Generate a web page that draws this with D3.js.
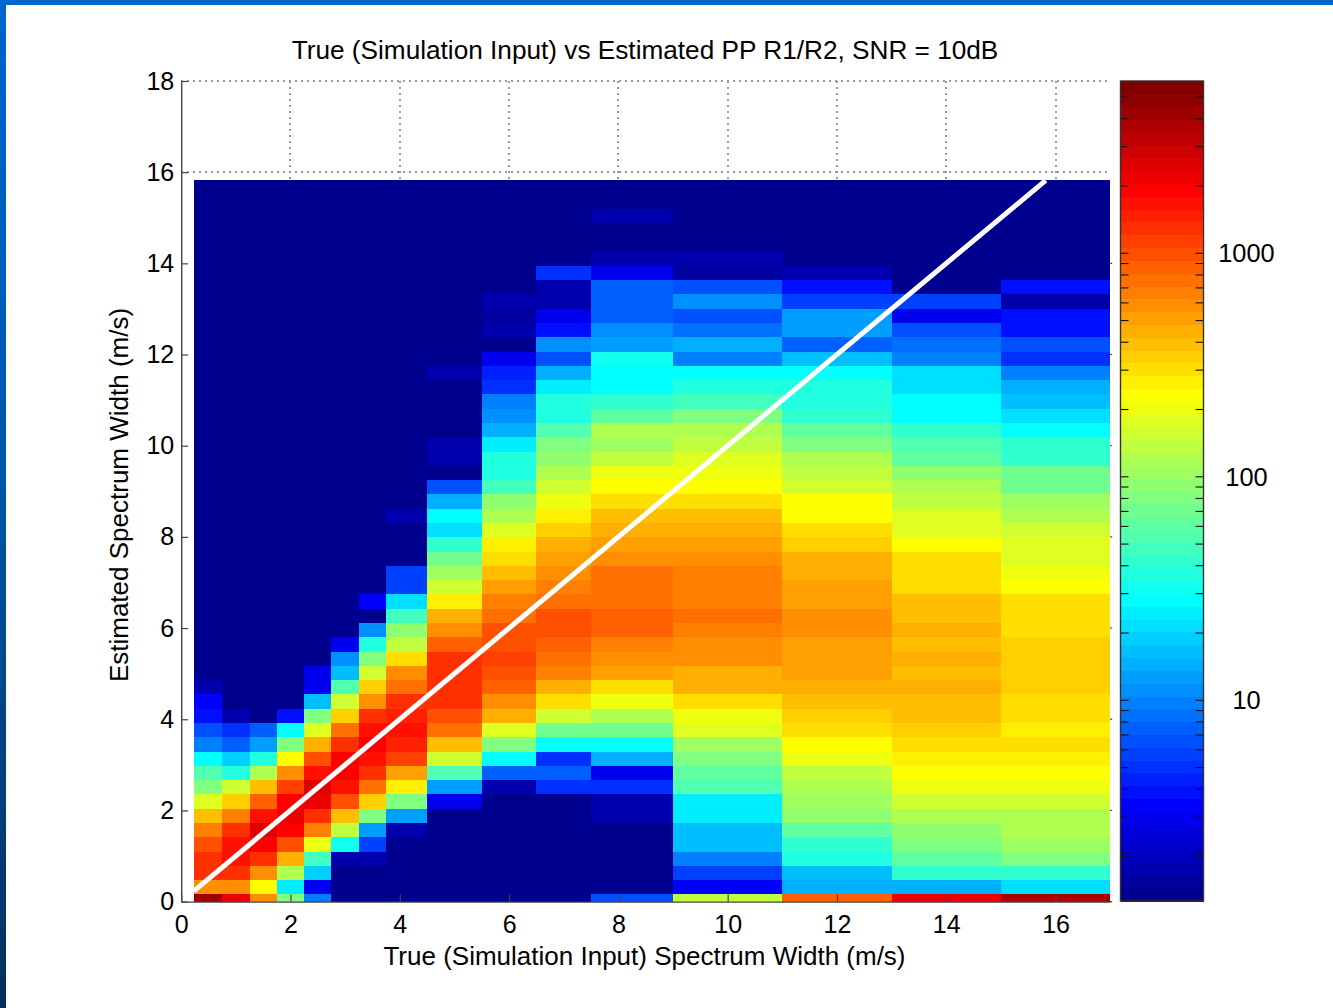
<!DOCTYPE html>
<html>
<head>
<meta charset="utf-8">
<script src="https://cdn.jsdelivr.net/npm/d3@7"></script>
<style>
  html, body { margin: 0; padding: 0; background: #fff; overflow: hidden; }
  text { font-family: "Liberation Sans", Arial, sans-serif; fill: #000; }
</style>
</head>
<body>
<div id="chart"></div>
<script>
// True width bin edges (m/s), 16 columns
const trueEdges = [0.23, 0.75, 1.25, 1.75, 2.25, 2.75, 3.25, 3.75, 4.5, 5.5, 6.5, 7.5, 9, 11, 13, 15, 17];

// Estimated width bins: 51 rows, row k is centred on k * rowStep
const rowCount = 51;
const rowStep = 0.3134;

// Counts per column, from the bottom row upward. Rows not listed are empty.
const col0 = [4245, 586, 1294, 1294, 994, 669, 394, 179, 81, 55, 28, 9.8, 6.6, 3.9, 3.4, 1.8];
const col1 = [2194, 586, 1294, 1685, 1685, 1294, 669, 346, 157, 37, 19, 7.5, 5.1, 1.8];
const col2 = [586, 233, 586, 1294, 1923, 2504, 1685, 871, 394, 120, 37, 13, 7.5];
const col3 = [81, 25, 120, 450, 994, 1923, 2194, 1923, 1134, 586, 233, 81, 28, 3.9];
const col4 = [9.8, 3, 19, 48, 204, 669, 1294, 2194, 2504, 1685, 994, 450, 179, 81, 17, 3, 3];
const col5 = [1, 1, 1, 1.8, 32, 137, 394, 994, 1685, 1923, 1923, 1294, 763, 346, 157, 55, 17, 11, 3];
const col6 = [1, 1, 1, 1.8, 5.8, 13, 81, 346, 763, 1294, 1685, 1923, 1685, 1294, 586, 346, 157, 81, 37, 11, 1, 3.4];
const col7 = [1, 1, 1, 1, 1, 1.8, 13, 81, 265, 514, 1134, 1476, 1685, 1476, 1294, 763, 586, 303, 137, 92, 48, 22, 5.8, 5.8, 1, 1, 1, 1.8];
const col8 = [1, 1, 1, 1, 1, 1, 1, 3, 13, 55, 157, 394, 763, 994, 1294, 1294, 1294, 1294, 871, 586, 450, 265, 157, 105, 71, 42, 22, 28, 15, 6.6, 1, 1.8, 1.8, 1, 1, 1, 1, 1.8];
const col9 = [1, 1, 1, 1, 1, 1, 1, 1, 1.8, 7.5, 28, 81, 179, 450, 586, 871, 994, 1134, 994, 994, 763, 669, 514, 394, 303, 265, 179, 120, 92, 48, 37, 37, 25, 15, 11, 9.8, 5.1, 4.4, 3, 1, 1.8, 1.5, 1.8];
const col10 = [1, 1, 1, 1, 1, 1, 1, 1, 5.1, 7.5, 5.1, 28, 71, 157, 303, 450, 669, 763, 871, 994, 994, 763, 669, 586, 514, 450, 346, 265, 204, 157, 120, 92, 81, 55, 37, 37, 25, 15, 6.6, 11, 3.9, 3, 1.8, 1.8, 5.1];
const col11 = [6.6, 1, 1, 1, 1, 1, 1.8, 1.8, 5.1, 3, 15, 28, 71, 120, 204, 303, 514, 586, 669, 871, 871, 763, 763, 763, 586, 514, 450, 394, 303, 233, 204, 137, 105, 120, 62, 42, 28, 28, 32, 13, 11, 7.5, 7.5, 7.5, 3, 1.8, 1, 1, 1.8];
const col12 = [137, 3.4, 5.8, 9.8, 17, 17, 25, 25, 55, 62, 81, 105, 179, 204, 303, 450, 450, 586, 586, 669, 763, 669, 669, 669, 586, 514, 450, 394, 303, 233, 204, 179, 137, 120, 81, 48, 37, 28, 9.8, 15, 8.6, 6.6, 11, 6.6, 1.5, 1.8];
const col13 = [871, 15, 17, 37, 42, 62, 92, 105, 120, 137, 204, 233, 303, 346, 394, 450, 514, 514, 514, 586, 586, 514, 514, 450, 450, 346, 303, 233, 233, 157, 137, 120, 81, 62, 42, 37, 37, 28, 17, 7.5, 13, 13, 5.8, 3.9, 1.8];
const col14 = [2194, 15, 42, 62, 81, 92, 120, 157, 204, 233, 265, 303, 346, 394, 394, 450, 394, 450, 394, 450, 394, 394, 303, 303, 303, 233, 179, 179, 137, 120, 92, 62, 55, 42, 28, 28, 22, 22, 9.8, 8.6, 6.6, 3, 5.8];
const col15 = [3720, 22, 42, 81, 105, 120, 120, 157, 204, 233, 265, 303, 265, 303, 303, 346, 346, 346, 346, 303, 303, 303, 233, 204, 179, 179, 157, 120, 105, 71, 71, 42, 42, 28, 22, 17, 15, 9.8, 5.1, 6.6, 3.9, 3.9, 1.8, 3.9];
const columns = [col0, col1, col2, col3, col4, col5, col6, col7, col8, col9, col10, col11, col12, col13, col14, col15];

// Axis ticks and the y = x reference line
const xTicks = [0, 2, 4, 6, 8, 10, 12, 14, 16];
const yTicks = [0, 2, 4, 6, 8, 10, 12, 14, 16, 18];
const refLine = [0.23, 15.82];

// Colour bar
const countRange = [1.265, 5900];
const barLabels = [10, 100, 1000];
const barMinor = [2, 3, 4, 5, 6, 7, 8, 9, 20, 30, 40, 50, 60, 70, 80, 90, 200, 300, 400, 500, 600, 700, 800, 900, 2000, 3000, 4000, 5000];

const width = 1333;
const height = 1008;
const levels = 64;

const svg = d3.select("#chart").append("svg")
    .attr("width", width)
    .attr("height", height)
    .style("display", "block");

// Slide frame: blue bar on top and a darkening one on the left
const grad = svg.append("defs").append("linearGradient")
    .attr("id", "frame")
    .attr("x1", 0).attr("y1", 0).attr("x2", 0).attr("y2", 1);
grad.append("stop").attr("offset", "0").attr("stop-color", "#0066cc");
grad.append("stop").attr("offset", "0.45").attr("stop-color", "#0058ad");
grad.append("stop").attr("offset", "1").attr("stop-color", "#002f5e");
svg.append("rect").attr("width", 6).attr("height", height).attr("fill", "url(#frame)");
svg.append("rect").attr("width", width).attr("height", 5).attr("fill", "#0066cc");

const x = d3.scaleLinear().domain([0, 17]).range([181.2, 1110.2]);
const y = d3.scaleLinear().domain([0, 18]).range([901.6, 81]);

// Matlab jet, 64 levels
function jet(i) {
    const v = (i + 1) / levels * 4;
    const f = c => Math.round(255 * Math.max(0, Math.min(1, Math.min(v - c + 1.5, c - v + 1.5))));
    return d3.rgb(f(3), f(2), f(1)).formatHex();
}
const logScale = d3.scaleLog().domain(countRange).range([0, levels]).clamp(true);
const colour = v => jet(Math.min(levels - 1, Math.floor(logScale(v))));

// Dotted grid, mostly hidden under the cells
const grid = svg.append("g")
    .attr("stroke", "#9a9a9a")
    .attr("stroke-width", 2)
    .attr("stroke-dasharray", "2 4")
    .attr("shape-rendering", "crispEdges");
grid.selectAll("line.v").data(xTicks.slice(1)).join("line")
    .attr("class", "v")
    .attr("x1", d => x(d)).attr("x2", d => x(d))
    .attr("y1", y(18)).attr("y2", y(15.7));
grid.selectAll("line.h").data(yTicks.slice(-2)).join("line")
    .attr("class", "h")
    .attr("x1", x(0)).attr("x2", x(17))
    .attr("y1", d => y(d)).attr("y2", d => y(d));

// Cells
const cells = [];
columns.forEach((col, c) => {
    d3.range(rowCount).forEach(k => {
        cells.push({ c, k, value: col[k] === undefined ? 1 : col[k] });
    });
});
svg.append("g").attr("shape-rendering", "crispEdges")
    .selectAll("rect").data(cells).join("rect")
    .attr("x", d => x(trueEdges[d.c]))
    .attr("width", d => x(trueEdges[d.c + 1]) - x(trueEdges[d.c]))
    .attr("y", d => y((d.k + 0.5) * rowStep))
    .attr("height", d => y(Math.max(0, (d.k - 0.5) * rowStep)) - y((d.k + 0.5) * rowStep))
    .attr("fill", d => colour(d.value));

// Reference line y = x
svg.append("line")
    .attr("x1", x(refLine[0])).attr("y1", y(refLine[0]))
    .attr("x2", x(refLine[1])).attr("y2", y(refLine[1]))
    .attr("stroke", "#fff")
    .attr("stroke-width", 5);

// Axes
const xAxis = svg.append("g")
    .attr("transform", `translate(0,${y(0)})`)
    .call(d3.axisBottom(x).tickValues(xTicks).tickSizeInner(-7).tickSizeOuter(0).tickPadding(14));
const yAxis = svg.append("g")
    .attr("transform", `translate(${x(0)},0)`)
    .call(d3.axisLeft(y).tickValues(yTicks).tickSizeInner(-7).tickSizeOuter(0).tickPadding(7));
[xAxis, yAxis].forEach(a => {
    a.attr("font-size", null).attr("font-family", null);
    a.select(".domain").attr("stroke", "#444").attr("stroke-width", 1.4);
    a.selectAll(".tick line").attr("stroke", "#444").attr("stroke-width", 1.2);
    a.selectAll("text").style("font-size", "25px");
});

// Small ticks on the right edge of the plot
svg.append("g").selectAll("line").data(yTicks.slice(0, -2)).join("line")
    .attr("x1", x(17)).attr("x2", x(17) + 2)
    .attr("y1", d => y(d)).attr("y2", d => y(d))
    .attr("stroke", "#444").attr("stroke-width", 1.2);

// Colour bar
const barX = 1120.5;
const barW = 83;
const barY = d3.scaleLog().domain(countRange).range([901, 81]);
const bandH = (barY.range()[0] - barY.range()[1]) / levels;
const bar = svg.append("g");
bar.append("g").attr("shape-rendering", "crispEdges")
    .selectAll("rect").data(d3.range(levels)).join("rect")
    .attr("x", barX)
    .attr("width", barW)
    .attr("y", i => 901 - (i + 1) * bandH)
    .attr("height", bandH + 0.5)
    .attr("fill", i => jet(i));
bar.selectAll("line.left").data(barLabels.concat(barMinor)).join("line")
    .attr("class", "left")
    .attr("x1", barX).attr("x2", barX + 8)
    .attr("y1", d => barY(d)).attr("y2", d => barY(d))
    .attr("stroke", "#111").attr("stroke-width", 1.1);
bar.selectAll("line.right").data(barLabels.concat(barMinor)).join("line")
    .attr("class", "right")
    .attr("x1", barX + barW - 8).attr("x2", barX + barW)
    .attr("y1", d => barY(d)).attr("y2", d => barY(d))
    .attr("stroke", "#111").attr("stroke-width", 1.1);
bar.append("rect")
    .attr("x", barX).attr("y", 81).attr("width", barW).attr("height", 820)
    .attr("fill", "none").attr("stroke", "#333").attr("stroke-width", 1.4);
bar.selectAll("text").data(barLabels).join("text")
    .attr("x", 1246.5)
    .attr("y", d => barY(d))
    .attr("dy", "0.36em")
    .attr("text-anchor", "middle")
    .style("font-size", "25.4px")
    .text(d => d);

// Title and axis labels
svg.append("text")
    .attr("x", 645).attr("y", 59)
    .attr("text-anchor", "middle")
    .style("font-size", "26.2px")
    .text("True (Simulation Input) vs Estimated PP R1/R2, SNR = 10dB");
svg.append("text")
    .attr("x", 644.5).attr("y", 965)
    .attr("text-anchor", "middle")
    .style("font-size", "26px")
    .text("True (Simulation Input) Spectrum Width (m/s)");
svg.append("text")
    .attr("transform", "translate(127.5,495) rotate(-90)")
    .attr("text-anchor", "middle")
    .style("font-size", "26px")
    .text("Estimated Spectrum Width (m/s)");
</script>
</body>
</html>
